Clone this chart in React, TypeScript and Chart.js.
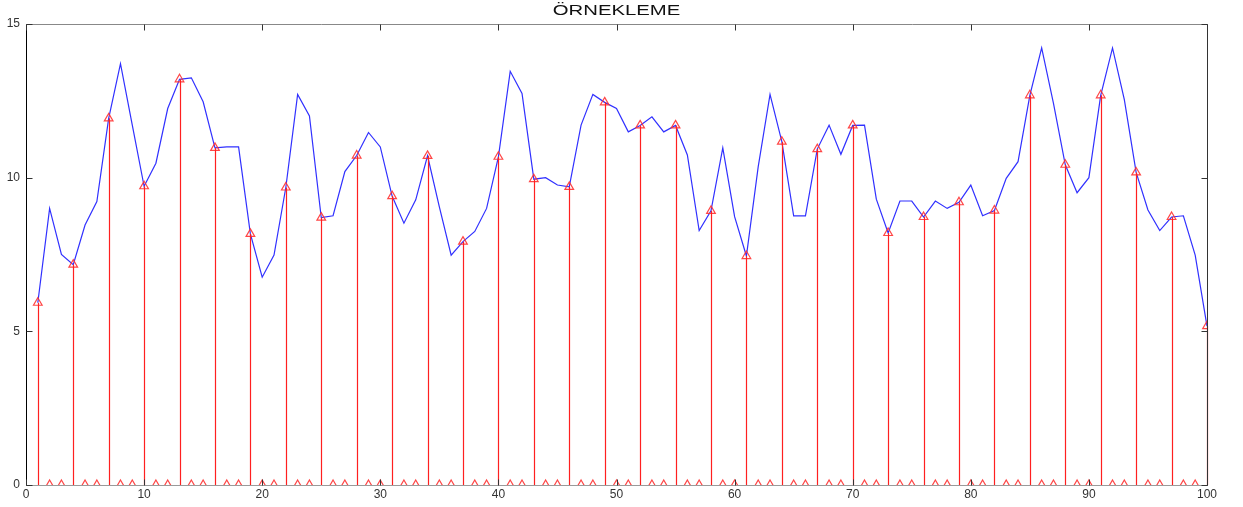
import React, { useEffect, useRef } from "react";
import { Chart, registerables } from "chart.js";

Chart.register(...registerables);

const TITLE = "ÖRNEKLEME";

// Every third sample (n = 1, 4, 7, ...) is kept by the sampler.
const SAMPLE_STEP = 3;

// Continuous signal, one value per n = 1..100
const signal: number[] = [
  5.93, 9.0, 7.5, 7.17, 8.46, 9.22, 11.93, 13.71, 11.71, 9.72,
  10.47, 12.25, 13.2, 13.25, 12.47, 10.97, 11.0, 11.0, 8.17, 6.76,
  7.48, 9.68, 12.71, 12.01, 8.7, 8.76, 10.2, 10.72, 11.47, 11.0,
  9.4, 8.52, 9.28, 10.71, 9.05, 7.48, 7.92, 8.25, 9.0, 10.68,
  13.46, 12.74, 9.95, 10.0, 9.76, 9.7, 11.71, 12.71, 12.45, 12.25,
  11.49, 11.7, 11.98, 11.49, 11.7, 10.74, 8.28, 8.92, 10.97, 8.73,
  7.45, 10.36, 12.71, 11.17, 8.76, 8.76, 10.93, 11.71, 10.76, 11.7,
  11.71, 9.3, 8.2, 9.24, 9.24, 8.72, 9.24, 9.0, 9.2, 9.76,
  8.76, 8.93, 9.98, 10.52, 12.68, 14.22, 12.42, 10.42, 9.51, 10.0,
  12.68, 14.22, 12.54, 10.17, 8.95, 8.28, 8.72, 8.76, 7.48, 5.17,
];

const xTicks: number[] = [0, 10, 20, 30, 40, 50, 60, 70, 80, 90, 100];
const yTicks: number[] = [0, 5, 10, 15];

const sampleIndex: number[] = signal.map((_, i) => i + 1);
const sampled: number[] = signal.map((v, i) => (i % SAMPLE_STEP === 0 ? v : 0));

const BLUE = "#3030ff";
const RED = "#ff2020";
const MARKER = "rgba(255,50,50,0.9)";

// Stems, axes box, inward tick marks and the stretched title.
const framePlugin = {
  id: "frame",
  afterDatasetsDraw(chart: any) {
    const { ctx, scales } = chart;
    const x = scales.x;
    const y = scales.y;
    ctx.save();
    ctx.strokeStyle = RED;
    ctx.lineWidth = 1.2;
    sampled.forEach((v, i) => {
      if (v === 0) return;
      const px = Math.round(x.getPixelForValue(sampleIndex[i])) + 0.5;
      ctx.beginPath();
      ctx.moveTo(px, y.getPixelForValue(0));
      ctx.lineTo(px, y.getPixelForValue(v));
      ctx.stroke();
    });
    ctx.restore();
  },
  afterDraw(chart: any) {
    const { ctx, chartArea, scales } = chart;
    const { left, right, top, bottom } = chartArea;
    const x = scales.x;
    const y = scales.y;
    const L = Math.round(left) + 0.5;
    const R = Math.round(right) + 0.5;
    const T = Math.round(top) + 0.5;
    const B = Math.round(bottom) + 0.5;
    ctx.save();
    ctx.lineWidth = 1;

    // box
    ctx.strokeStyle = "#888";
    ctx.beginPath();
    ctx.moveTo(L, T);
    ctx.lineTo(R, T);
    ctx.stroke();
    ctx.strokeStyle = "#9a9a9a";
    ctx.beginPath();
    ctx.moveTo(L, B);
    ctx.lineTo(R, B);
    ctx.stroke();
    ctx.strokeStyle = "#000";
    ctx.beginPath();
    ctx.moveTo(L, T);
    ctx.lineTo(L, B);
    ctx.stroke();
    ctx.strokeStyle = "#333";
    ctx.beginPath();
    ctx.moveTo(R, T);
    ctx.lineTo(R, B);
    ctx.stroke();

    // inward ticks on all four sides
    const len = 6;
    ctx.strokeStyle = "#333";
    xTicks.forEach((t) => {
      const px = Math.round(x.getPixelForValue(t)) + 0.5;
      ctx.beginPath();
      ctx.moveTo(px, B);
      ctx.lineTo(px, B - len);
      ctx.moveTo(px, T);
      ctx.lineTo(px, T + len);
      ctx.stroke();
    });
    yTicks.forEach((t) => {
      const py = Math.round(y.getPixelForValue(t)) + 0.5;
      ctx.beginPath();
      ctx.moveTo(L, py);
      ctx.lineTo(L + len, py);
      ctx.moveTo(R, py);
      ctx.lineTo(R - len, py);
      ctx.stroke();
    });

    // title
    ctx.fillStyle = "#111";
    ctx.font = '14px "Liberation Sans", Arial, sans-serif';
    ctx.textAlign = "center";
    ctx.textBaseline = "middle";
    ctx.translate((left + right) / 2, 11.5);
    ctx.scale(1.45, 1);
    ctx.fillText(TITLE, 0, 0);
    ctx.restore();
  },
};

export default function App() {
  const canvasRef = useRef<HTMLCanvasElement | null>(null);

  useEffect(() => {
    const canvas = canvasRef.current;
    if (!canvas) return;
    const chart = new Chart(canvas, {
      type: "scatter",
      data: {
        datasets: [
          {
            label: "sinyal",
            data: signal.map((v, i) => ({ x: sampleIndex[i], y: v })),
            showLine: true,
            borderColor: BLUE,
            borderWidth: 1.2,
            pointRadius: 0,
            tension: 0,
            order: 2,
          },
          {
            label: "örnek",
            data: sampled.map((v, i) => ({ x: sampleIndex[i], y: v })),
            showLine: false,
            pointStyle: "triangle",
            pointRadius: 5,
            borderColor: MARKER,
            backgroundColor: "rgba(0,0,0,0)",
            borderWidth: 1.2,
            order: 1,
          },
        ],
      },
      options: {
        responsive: false,
        animation: false,
        events: [],
        layout: { padding: { top: 24, right: 36, left: 0, bottom: 0 } },
        plugins: {
          legend: { display: false },
          tooltip: { enabled: false },
          title: { display: false },
        },
        scales: {
          x: {
            type: "linear",
            min: 0,
            max: 100,
            afterFit: (s: any) => {
              s.height = 22;
            },
            afterBuildTicks: (s: any) => {
              s.ticks = xTicks.map((v) => ({ value: v }));
            },
            grid: { display: false, drawTicks: false },
            border: { display: false },
            ticks: {
              padding: 2,
              color: "#333",
              font: { family: '"Liberation Sans", Arial, sans-serif', size: 12 },
              maxRotation: 0,
              autoSkip: false,
            },
          },
          y: {
            type: "linear",
            min: 0,
            max: 15,
            afterFit: (s: any) => {
              s.width = 26;
            },
            afterBuildTicks: (s: any) => {
              s.ticks = yTicks.map((v) => ({ value: v }));
            },
            grid: { display: false, drawTicks: false },
            border: { display: false },
            ticks: {
              padding: 6,
              color: "#333",
              font: { family: '"Liberation Sans", Arial, sans-serif', size: 12 },
            },
          },
        },
      },
      plugins: [framePlugin],
    });
    return () => chart.destroy();
  }, []);

  return (
    <div
      style={{
        position: "fixed",
        left: 0,
        top: 0,
        width: 1243,
        height: 507,
        background: "#fff",
      }}
    >
      <canvas ref={canvasRef} width={1243} height={507} style={{ display: "block" }} />
    </div>
  );
}
